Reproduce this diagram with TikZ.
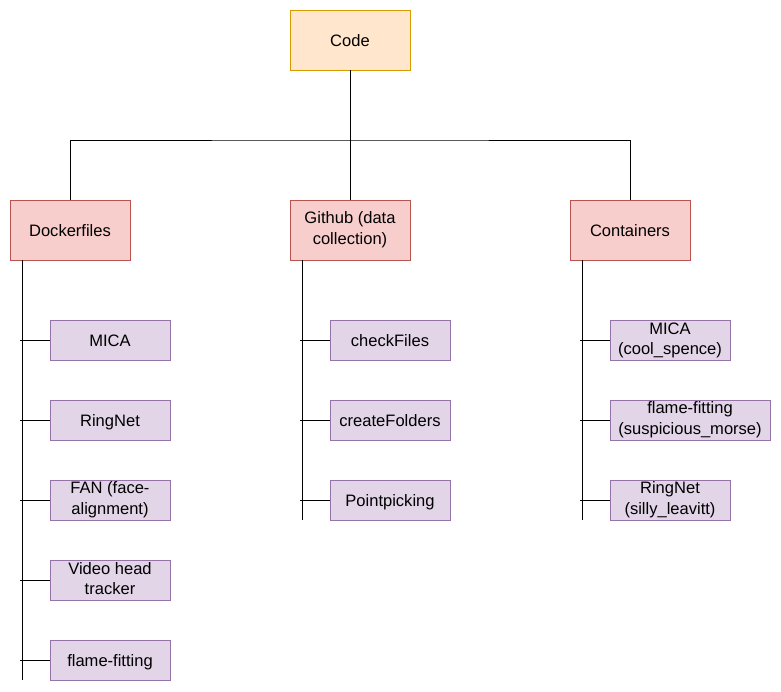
\documentclass[tikz,border=0pt]{standalone}
\usepackage{fontspec}
\setmainfont{Liberation Sans}
\newcommand\lnstrut{\rule[-3.2bp]{0pt}{19.9bp}}
\newcommand\nl{\\\lnstrut}
\begin{document}
\begin{tikzpicture}[x=1bp,y=-1bp,
  every node/.style={font=\fontsize{16.6}{20}\selectfont, align=center, inner sep=0pt,
    execute at begin node=\lnstrut},
  box/.style={draw, line width=0.8bp, minimum width=120bp, minimum height=60bp},
  orangebox/.style={box, fill=orfill, draw=orline},
  redbox/.style={box, fill=rdfill, draw=rdline},
  leaf/.style={draw=puline, fill=pufill, line width=0.8bp, minimum width=120bp, minimum height=40bp},
  conn/.style={draw=black, line width=0.9bp}]
\definecolor{orfill}{HTML}{FFE6CC}\definecolor{orline}{HTML}{D79B00}
\definecolor{rdfill}{HTML}{F8CECC}\definecolor{rdline}{HTML}{B85450}
\definecolor{pufill}{HTML}{E1D5E7}\definecolor{puline}{HTML}{9673A6}
\useasboundingbox (0,0) rectangle (781,692);
\node[orangebox] (code) at (350,40) {Code};
\node[redbox] (dock) at (70,230) {Dockerfiles};
\node[redbox] (git) at (350,230) {Github (data\nl collection)};
\node[redbox] (cont) at (630,230) {Containers};
% Dockerfiles children
\node[leaf] (d1) at (110,340) {MICA};
\node[leaf] (d2) at (110,420) {RingNet};
\node[leaf] (d3) at (110,500) {FAN (face-\nl alignment)};
\node[leaf] (d4) at (110,580) {Video head\nl tracker};
\node[leaf] (d5) at (110,660) {flame-fitting};
% Github children
\node[leaf] (g1) at (390,340) {checkFiles};
\node[leaf] (g2) at (390,420) {createFolders};
\node[leaf] (g3) at (390,500) {Pointpicking};
% Containers children
\node[leaf] (c1) at (670,340) {MICA\nl (cool\_spence)};
\node[leaf, minimum width=160bp] (c2) at (690,420) {flame-fitting\nl (suspicious\_morse)};
\node[leaf] (c3) at (670,500) {RingNet\nl (silly\_leavitt)};
% top tree
\coordinate (hub) at (350,140);
\draw[conn] (code.south) -- (hub);
\draw[conn] (dock.north) |- (hub) -| (cont.north);
\draw[conn] (hub) -- (git.north);
% spines
\coordinate (ds) at (22,260);
\coordinate (de) at (22,680);
\coordinate (gs) at (302,260);
\coordinate (ge) at (302,520);
\coordinate (cs) at (582,260);
\coordinate (ce) at (582,520);
\draw[conn] (ds) -- (de);
\draw[conn] (gs) -- (ge);
\draw[conn] (cs) -- (ce);
\foreach \n in {d1,d2,d3,d4,d5} \draw[conn] (\n.west) -- ++(-30,0);
\foreach \n in {g1,g2,g3} \draw[conn] (\n.west) -- ++(-30,0);
\draw[conn] (c1.west) -- ++(-30,0);
\draw[conn] (c2.west) -- ++(-30,0);
\draw[conn] (c3.west) -- ++(-30,0);
\end{tikzpicture}
\end{document}
